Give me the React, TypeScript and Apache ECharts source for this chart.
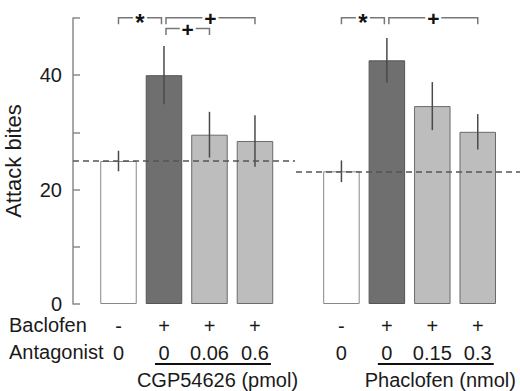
import React, { useEffect, useRef } from "react";
import * as echarts from "echarts";

// ---- data ----
const baclofenRow = ["-", "+", "+", "+"];
const cgpDoses = ["0", "0", "0.06", "0.6"];
const phaDoses = ["0", "0", "0.15", "0.3"];
const cgpMeans = [25.0, 40.0, 29.6, 28.5];
const cgpErrors = [1.8, 5.1, 4.0, 4.5];
const phaMeans = [23.2, 42.6, 34.6, 30.1];
const phaErrors = [1.9, 3.9, 4.2, 3.1];
const yLabelTicks = [0, 20, 40];
const cgpBrackets = [
  { from: 1, to: 2, mark: "*", level: 0 },
  { from: 2, to: 4, mark: "+", level: 0 },
  { from: 2, to: 3, mark: "+", level: 1 },
];
const phaBrackets = [
  { from: 1, to: 2, mark: "*", level: 0 },
  { from: 2, to: 4, mark: "+", level: 0 },
];
const groupNames = ["CGP54626 (pmol)", "Phaclofen (nmol)"];
const rowTitles = ["Baclofen", "Antagonist"];

// ---- style ----
const FONT = "'Liberation Sans', Arial, Helvetica, sans-serif";
const barColors = ["#ffffff", "#6f6f6f", "#bdbdbd", "#bdbdbd"];
const barBorders = ["#888888", "#555555", "#6a6a6a", "#6a6a6a"];

function xLabelFormatter(doses: string[]) {
  return (v: number) => {
    if (Math.abs(v - Math.round(v)) < 1e-6) {
      const i = Math.round(v) - 1;
      if (i >= 0 && i < doses.length) return `${baclofenRow[i]}\n${doses[i]}`;
    }
    return "";
  };
}

function barSeries(means: number[], gi: number) {
  return {
    type: "bar",
    xAxisIndex: gi,
    yAxisIndex: gi,
    barWidth: 36.5,
    data: means.map((v, i) => ({
      value: [i + 1, v],
      itemStyle: { color: barColors[i], borderColor: barBorders[i], borderWidth: 1 },
    })),
    markLine: {
      silent: true,
      symbol: "none",
      label: { show: false },
      lineStyle: { color: "#555", type: [6, 4], width: 1.5 },
      data: [{ yAxis: means[0] }],
    },
    z: 2,
  };
}

function errorSeries(means: number[], errs: number[], gi: number) {
  return {
    type: "custom",
    xAxisIndex: gi,
    yAxisIndex: gi,
    z: 4,
    data: means.map((m, i) => [i + 1, m - errs[i], m + errs[i]]),
    renderItem: (_p: any, api: any) => {
      const lo = api.coord([api.value(0), api.value(1)]);
      const hi = api.coord([api.value(0), api.value(2)]);
      return {
        type: "line",
        shape: { x1: lo[0], y1: lo[1], x2: hi[0], y2: hi[1] },
        style: { stroke: "#4a4a4a", lineWidth: 1.5 },
      };
    },
  };
}

function bracketSeries(brackets: { from: number; to: number; mark: string; level: number }[], gi: number) {
  return {
    type: "custom",
    xAxisIndex: gi,
    yAxisIndex: gi,
    clip: false,
    z: 5,
    data: brackets.map((b) => [b.from, b.to]),
    renderItem: (p: any, api: any) => {
      const b = brackets[p.dataIndex];
      const a = api.coord([b.from, 50]);
      const c = api.coord([b.to, 50]);
      const y = a[1] - 0.3 + b.level * 10.8;
      const x1 = a[0] + (b.from === 2 ? 2 : 0);
      const x2 = c[0] - (b.to === 2 ? 2.5 : 0);
      const cx = (x1 + x2) / 2;
      const gap = b.mark === "*" ? 7 : 8;
      const leg = 6.5;
      const ls = { stroke: "#777", lineWidth: 1.5, fill: "none" };
      return {
        type: "group",
        children: [
          { type: "polyline", shape: { points: [[x1, y + leg], [x1, y], [cx - gap, y]] }, style: ls },
          { type: "polyline", shape: { points: [[cx + gap, y], [x2, y], [x2, y + leg]] }, style: ls },
          {
            type: "text",
            x: cx,
            y: b.mark === "*" ? y + 5 : y + 1,
            style: {
              text: b.mark,
              fontSize: b.mark === "*" ? 24 : 21,
              fontWeight: "bold",
              fontFamily: FONT,
              fill: "#111",
              align: "center",
              verticalAlign: "middle",
            },
          },
        ],
      };
    },
  };
}

function xAxis(gi: number, max: number, doses: string[]) {
  return {
    type: "value",
    gridIndex: gi,
    min: 0,
    max,
    interval: 1,
    axisLine: { show: false },
    axisTick: { show: false },
    splitLine: { show: false },
    axisLabel: {
      formatter: xLabelFormatter(doses),
      fontSize: 20,
      lineHeight: 27,
      margin: 8,
      color: "#1a1a1a",
      fontFamily: FONT,
      showMinLabel: false,
      showMaxLabel: false,
    },
  };
}

export default function App() {
  const ref = useRef<HTMLDivElement>(null);
  useEffect(() => {
    if (!ref.current) return;
    document.body.style.margin = "0";
    const chart = echarts.init(ref.current, null, { renderer: "svg" });
    const option: any = {
      animation: false,
      backgroundColor: "#ffffff",
      grid: [
        { left: 73, top: 18, width: 222, bottom: 87 },
        { left: 296, top: 18, right: 0, bottom: 87 },
      ],
      xAxis: [xAxis(0, 4.88, cgpDoses), xAxis(1, 4.93, phaDoses)],
      yAxis: [
        {
          type: "value",
          gridIndex: 0,
          min: 0,
          max: 50,
          interval: 10,
          name: "Attack bites",
          nameLocation: "middle",
          nameGap: 49,
          nameTextStyle: { fontSize: 22, color: "#1a1a1a", fontFamily: FONT },
          axisLine: { show: true, lineStyle: { color: "#8a8a8a", width: 1.5 } },
          axisTick: { show: true, inside: true, length: 7, lineStyle: { color: "#8a8a8a", width: 1.5 } },
          splitLine: { show: false },
          axisLabel: {
            formatter: (v: number) => (yLabelTicks.includes(v) ? String(v) : ""),
            fontSize: 20,
            margin: 11,
            color: "#1a1a1a",
            fontFamily: FONT,
          },
        },
        { type: "value", gridIndex: 1, min: 0, max: 50, interval: 10, show: false, splitLine: { show: false } },
      ],
      series: [
        barSeries(cgpMeans, 0),
        errorSeries(cgpMeans, cgpErrors, 0),
        bracketSeries(cgpBrackets, 0),
        barSeries(phaMeans, 1),
        errorSeries(phaMeans, phaErrors, 1),
        bracketSeries(phaBrackets, 1),
      ],
    };
    chart.setOption(option);

    // annotations below the axis, positioned from the axes' own scales
    const graphics: any[] = [];
    const zeroY = chart.convertToPixel({ gridIndex: 0 }, [1, 0])[1];
    rowTitles.forEach((t, r) => {
      graphics.push({
        type: "text",
        x: 9,
        y: zeroY + 21 + r * 27,
        style: { text: t, fontSize: 20, fontFamily: FONT, fill: "#1a1a1a", verticalAlign: "middle", align: "left" },
      });
    });
    [0, 1].forEach((gi) => {
      const p2 = chart.convertToPixel({ gridIndex: gi }, [2, 0]);
      const p4 = chart.convertToPixel({ gridIndex: gi }, [4, 0]);
      const p3 = chart.convertToPixel({ gridIndex: gi }, [3, 0]);
      const uy = zeroY + 60;
      graphics.push({
        type: "line",
        shape: { x1: p2[0] - 9, y1: uy, x2: p4[0] + 16, y2: uy },
        style: { stroke: "#111", lineWidth: 2 },
      });
      graphics.push({
        type: "text",
        x: p3[0] + 8,
        y: zeroY + 76,
        style: {
          text: groupNames[gi],
          fontSize: 20,
          fontFamily: FONT,
          fill: "#1a1a1a",
          align: "center",
          verticalAlign: "middle",
        },
      });
    });
    chart.setOption({ graphic: graphics });
    return () => chart.dispose();
  }, []);
  return <div ref={ref} style={{ position: "fixed", left: 0, top: 0, width: 520, height: 391 }} />;
}
